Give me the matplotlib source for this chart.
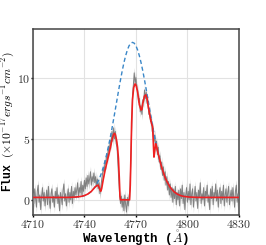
import numpy as np
import matplotlib
matplotlib.use("Agg")
import matplotlib.pyplot as plt

plt.rcParams['font.family'] = 'serif'
plt.rcParams['font.serif'] = ['cmr10', 'DejaVu Serif']
plt.rcParams['mathtext.fontset'] = 'cm'
plt.rcParams['axes.formatter.use_mathtext'] = True

# observed spectrum, sampled every 0.5 A from 4710 to 4830
wave = np.arange(4710, 4830.5, 0.5)
flux = [
    # 4710 - 4735
    0.5, -0.3, 0.9, 0.1, -0.6, 0.7, 1.2, -0.2, 0.4, -0.8, 0.3, 1.0, -0.1, 0.6, -0.5, 0.2, 0.8, -0.4, 1.1, 0.0, -0.7, 0.5, 0.9, -0.2, 0.3,
    -0.6, 0.7, 0.1, 1.0, -0.3, 0.4, -0.9, 0.6, 0.2, -0.4, 0.8, 1.3, -0.1, 0.5, -0.5, 0.3, 0.9, -0.2, 0.6, 0.0, 1.1, -0.3, 0.7, 0.2, 1.0, 0.4,
    # 4735.5 - 4745
    0.8, 1.4, 0.2, 1.0, 0.6, 1.5, 0.4, 1.2, 0.7, 1.6, 0.9, 1.8, 1.1, 2.0, 1.3, 1.7, 2.3, 1.2, 1.9, 1.5,
    # 4745.5 - 4750
    2.2, 1.4, 1.9, 1.1, 1.7, 0.9, 1.4, 0.5, 1.0, 1.6,
    # 4750.5 - 4758
    2.1, 2.6, 2.3, 3.2, 2.9, 3.8, 3.4, 4.4, 3.9, 4.9, 4.5, 5.6, 4.8, 5.9, 5.0, 5.6,
    # 4758.5 - 4761
    4.6, 4.3, 2.9, 1.6, 0.4, -0.3,
    # 4761.5 - 4766
    0.3, -0.6, 0.1, -0.9, 0.4, -0.4, -1.0, 0.2, -0.5, 0.3,
    # 4766.5 - 4770
    0.8, 3.2, 6.0, 8.6, 9.4, 10.4, 9.6, 10.0,
    # 4770.5 - 4776
    9.1, 9.0, 8.0, 8.3, 7.2, 7.7, 7.0, 8.2, 8.0, 9.0, 8.3, 8.8,
    # 4776.5 - 4782
    7.9, 8.1, 7.0, 7.3, 6.4, 6.6, 5.6, 5.9, 4.8, 5.3, 4.4, 4.8,
    # 4782.5 - 4795
    3.7, 4.3, 3.1, 3.6, 2.5, 3.1, 2.0, 2.7, 1.6, 2.3, 1.2, 1.9, 0.8, 1.5, 0.4, 1.3, 0.2, 1.0, -0.2, 0.9, 0.1, 1.1, -0.4, 0.6, 0.0, 0.8,
    # 4795.5 - 4830
    -0.5, 0.9, 0.1, 1.2, -0.3, 0.6, -0.8, 0.4, 1.0, -0.2, 0.7, 0.0, 1.3, -0.4, 0.5, 0.9, -0.6, 0.3, 1.1, -0.1,
    0.6, -0.7, 0.8, 0.2, 1.4, -0.3, 0.5, 0.0, 1.0, -0.5, 0.7, 0.3, 1.2, -0.2, 0.4, -0.8, 0.9, 0.1, 1.1, -0.4,
    0.6, 0.2, 1.3, -0.1, 0.8, -0.6, 0.5, 1.0, -0.3, 0.7, 0.0, 1.2, -0.5, 0.4, 0.9, -0.2, 0.6, 1.1, -0.4, 0.3,
    0.8, -0.1, 1.0, 0.2, -0.6, 0.7, 1.2, -0.2, 0.5, 0.1,
]
flux_err = 0.45

# intrinsic (unabsorbed) emission profile
intr_wave = [4710, 4730, 4735, 4738, 4740, 4742, 4744, 4746,
             4748, 4749, 4750, 4751, 4752, 4753, 4754, 4755, 4756, 4757, 4758, 4759,
             4760, 4761, 4762, 4763, 4764, 4765, 4766, 4767, 4768, 4769, 4770, 4771,
             4772, 4773, 4774, 4775, 4776, 4777, 4778, 4779, 4780, 4781, 4782, 4783,
             4784, 4785, 4786, 4787, 4788, 4790, 4792, 4794, 4796, 4798, 4801, 4806, 4830]
intr_flux = [0.20, 0.20, 0.23, 0.28, 0.35, 0.48, 0.69, 1.02,
             1.52, 1.84, 2.23, 2.68, 3.19, 3.76, 4.39, 5.08, 5.82, 6.61, 7.41, 8.23,
             9.04, 9.82, 10.56, 11.23, 11.80, 12.27, 12.62, 12.83, 12.90, 12.83, 12.62, 12.27,
             11.80, 11.23, 10.56, 9.82, 9.04, 8.23, 7.41, 6.61, 5.82, 5.08, 4.39, 3.76,
             3.19, 2.68, 2.23, 1.84, 1.52, 1.02, 0.69, 0.48, 0.35, 0.28, 0.23, 0.20, 0.20]

# absorbed model
model_wave = [4710, 4730, 4735, 4738, 4740, 4742, 4744, 4746, 4747, 4748, 4749, 4749.5,
              4750, 4751, 4752, 4753, 4754, 4755, 4756, 4757, 4757.5, 4758, 4758.7, 4759.3,
              4759.8, 4760.3, 4760.7, 4761, 4766.3, 4766.7, 4767, 4767.5, 4768, 4768.7, 4769.5,
              4770.2, 4771, 4772, 4773, 4773.5, 4774, 4775, 4775.8, 4776.5, 4777, 4778, 4779,
              4779.7, 4780.1, 4780.5, 4781, 4781.5, 4782, 4783, 4784, 4785, 4786, 4787, 4788,
              4790, 4792, 4794, 4796, 4798, 4801, 4806, 4830]
model_flux = [0.20, 0.20, 0.23, 0.28, 0.35, 0.48, 0.69, 1.02, 1.15, 1.2, 0.85, 0.7,
              0.9, 1.7, 2.4, 3.0, 3.6, 4.2, 4.9, 5.35, 5.45, 5.35, 4.9, 4.3,
              3.4, 1.8, 0.3, 0.0, 0.0, 1.2, 3.0, 6.3, 8.2, 9.2, 9.5,
              9.35, 8.8, 7.8, 7.35, 7.4, 7.9, 8.5, 8.6, 8.3, 7.8, 7.0, 6.3,
              6.0, 4.8, 3.5, 4.0, 4.6, 4.39, 3.76, 3.19, 2.68, 2.23, 1.84, 1.52,
              1.02, 0.69, 0.48, 0.35, 0.28, 0.23, 0.20, 0.20]

flux = np.array(flux)

fig = plt.figure(figsize=(2.66, 2.45), dpi=100)
ax = fig.add_axes([0.124, 0.122, 0.774, 0.760])

ax.fill_between(wave, flux - flux_err, flux + flux_err, color='#cfcfcf', lw=0, zorder=2)
ax.plot(wave, flux, color='#808080', lw=0.7, zorder=3)
ax.plot(intr_wave, intr_flux, color='#3a87c8', lw=1.0, ls=(0, (3, 2)), zorder=4)
ax.plot(model_wave, model_flux, color='#f02020', lw=1.2, zorder=5)

ax.set_xlim(4710, 4830)
ax.set_ylim(-1.25, 14)
ax.set_xticks([4710, 4740, 4770, 4800, 4830])
ax.set_yticks([0, 5, 10])
ax.grid(True, color='#e2e2e2', lw=0.8, zorder=0)
ax.set_axisbelow(True)
for s in ax.spines.values():
    s.set_color('#444444')
    s.set_linewidth(1.1)
ax.tick_params(labelsize=8.5, length=1.5, width=1, color='black', labelcolor='#333333', pad=0.5)

ax.set_xlabel(r'Wavelength ($\mathring{A}$)', family='Liberation Mono', weight='bold', fontsize=9)
ax.set_ylabel(r'Flux $(\times10^{-17}ergs^{-1}cm^{-2})$', family='Liberation Mono',
              weight='bold', fontsize=8.3)
ax.xaxis.set_label_coords(0.5, -0.068)
ax.yaxis.set_label_coords(-0.076, 0.5)

fig.savefig('out.png', dpi=100)
